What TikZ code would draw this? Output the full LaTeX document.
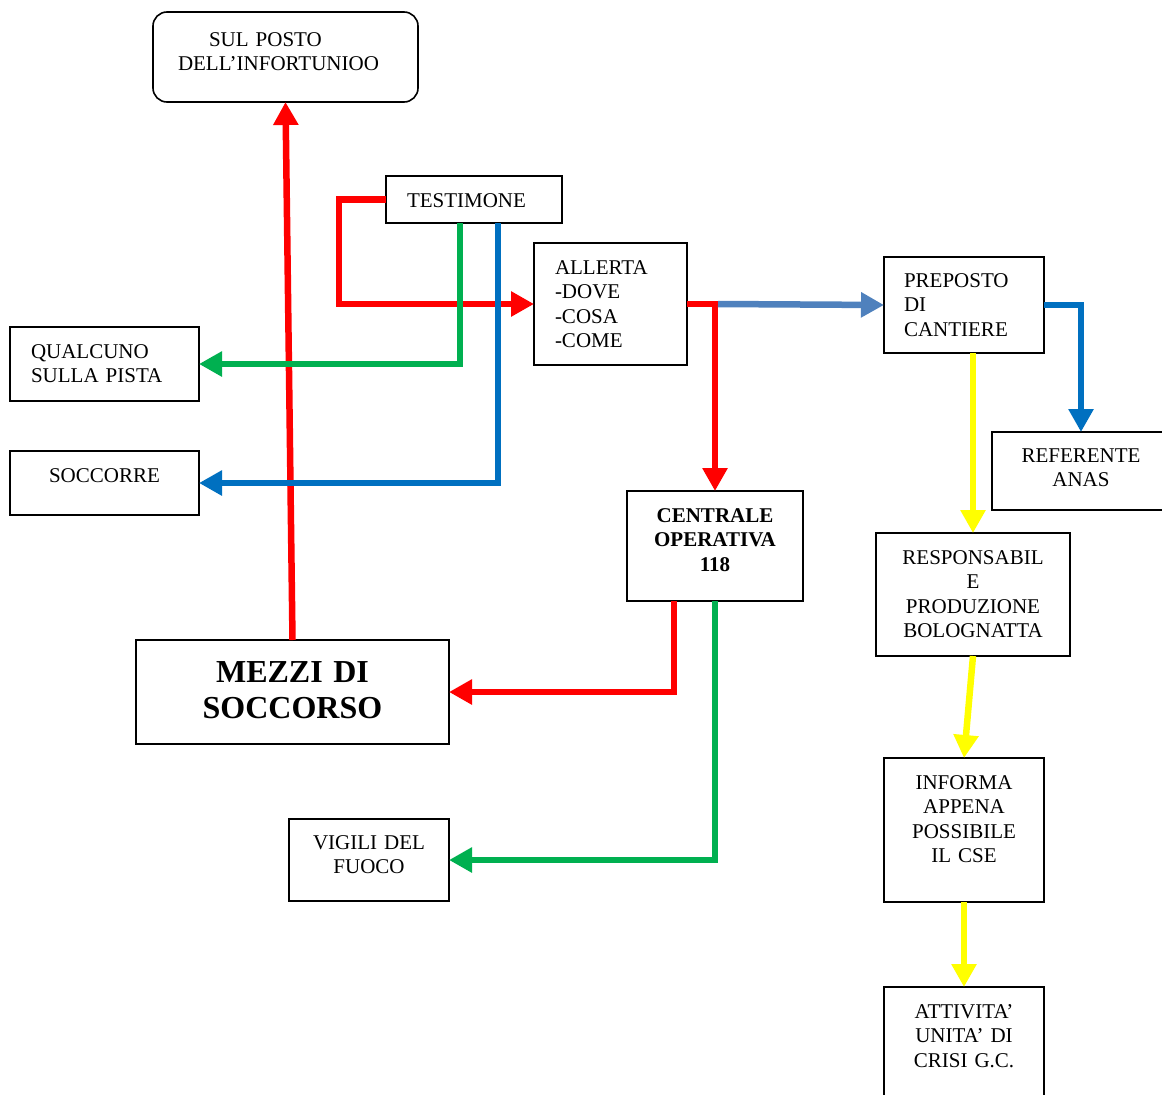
\documentclass[tikz,border=0pt]{standalone}
\usepackage{fontspec}
\setmainfont{Liberation Serif}
\usetikzlibrary{arrows.meta, calc}
\definecolor{lnred}{RGB}{255,0,0}
\definecolor{lngreen}{RGB}{0,176,80}
\definecolor{lnblue}{RGB}{0,112,192}
\definecolor{lnsteel}{RGB}{79,129,189}
\definecolor{lnyellow}{RGB}{255,255,0}
\begin{document}
\begin{tikzpicture}[x=1pt, y=-1pt,
    box/.style={draw, line width=1.6pt, inner sep=0pt, outer sep=0pt, anchor=north west,
      font=\fontsize{21}{24.5}\selectfont},
    flow/.style={line width=6.5pt, -{Triangle[length=23pt, width=24pt]}}]
    % 1. area del disegno
    \clip (0, 0) rectangle (1162, 1095);

    % 2. riquadri
    \node[box, rounded corners=14pt, text width=265, align=center, text height=34, text depth=56]
      (sulposto) at (153, 12) {\makebox[153pt][l]{SUL POSTO}\\\makebox[215pt][l]{DELL’INFORTUNIOO}};
    \node[box, inner xsep=21, text width=134, align=left, text height=31, text depth=16]
      (testimone) at (386, 176) {TESTIMONE};
    \node[box, inner xsep=21, text width=111, align=left, text height=31, text depth=91]
      (allerta) at (534, 243) {ALLERTA\\-DOVE\\-COSA\\-COME};
    \node[box, inner xsep=20, text width=120, align=left, text height=30, text depth=66]
      (preposto) at (884, 257) {PREPOSTO\\DI\\CANTIERE};
    \node[box, inner xsep=21, text width=147, align=left, text height=31, text depth=43]
      (qualcuno) at (10, 327) {QUALCUNO\\SULLA PISTA};
    \node[box, text width=189, align=center, text height=31, text depth=33]
      (soccorre) at (10, 451) {SOCCORRE};
    \node[box, text width=178, align=center, text height=30, text depth=48]
      (referente) at (992, 432) {REFERENTE\\ANAS};
    \node[box, text width=176, align=center, text height=31, text depth=79, font=\fontsize{21}{24.5}\selectfont\bfseries]
      (centrale) at (627, 491) {CENTRALE\\OPERATIVA\\118};
    \node[box, text width=194, align=center, text height=31, text depth=92]
      (responsabile) at (876, 533) {RESPONSABIL\\E\\PRODUZIONE\\BOLOGNATTA};
    \node[box, text width=313, align=center, text height=42, text depth=62, font=\fontsize{32}{36.5}\selectfont\bfseries]
      (mezzi) at (136, 640) {MEZZI DI\\SOCCORSO};
    \node[box, text width=160, align=center, text height=30, text depth=52]
      (vigili) at (289, 819) {VIGILI DEL\\FUOCO};
    \node[box, text width=160, align=center, text height=31, text depth=113]
      (informa) at (884, 758) {INFORMA\\APPENA\\POSSIBILE\\IL CSE};
    \node[box, text width=160, align=center, text height=31, text depth=113]
      (attivita) at (884, 987) {ATTIVITA’\\UNITA’ DI\\CRISI G.C.};

    % 3. frecce rosse
    \draw[flow, lnred] (mezzi.north) -- (sulposto.south);
    \draw[flow, lnred] (testimone.west) -- ++(-47, 0) |- (allerta.west);
    \draw[flow, lnred] (allerta.east) -| (centrale.north);
    \draw[flow, lnred] ($(centrale.south west)+(47, 0)$) |- (mezzi.east);

    % 4. frecce verdi e blu
    \draw[flow, lngreen] ($(testimone.south west)+(74, 0)$) |- (qualcuno.east);
    \draw[flow, lnblue] ($(testimone.south west)+(112, 0)$) |- (soccorre.east);
    \draw[flow, lngreen] (centrale.south) |- (vigili.east);
    \draw[flow, lnsteel] ($(allerta.east -| centrale.north)+(3, 0)$) -- (preposto.west);
    \draw[flow, lnblue] (preposto.east) -| (referente.north);

    % 5. frecce gialle
    \draw[flow, lnyellow] (preposto.south -| responsabile.north) -- (responsabile.north);
    \draw[flow, lnyellow] (responsabile.south) -- (informa.north);
    \draw[flow, lnyellow] (informa.south) -- (attivita.north);
\end{tikzpicture}
\end{document}
